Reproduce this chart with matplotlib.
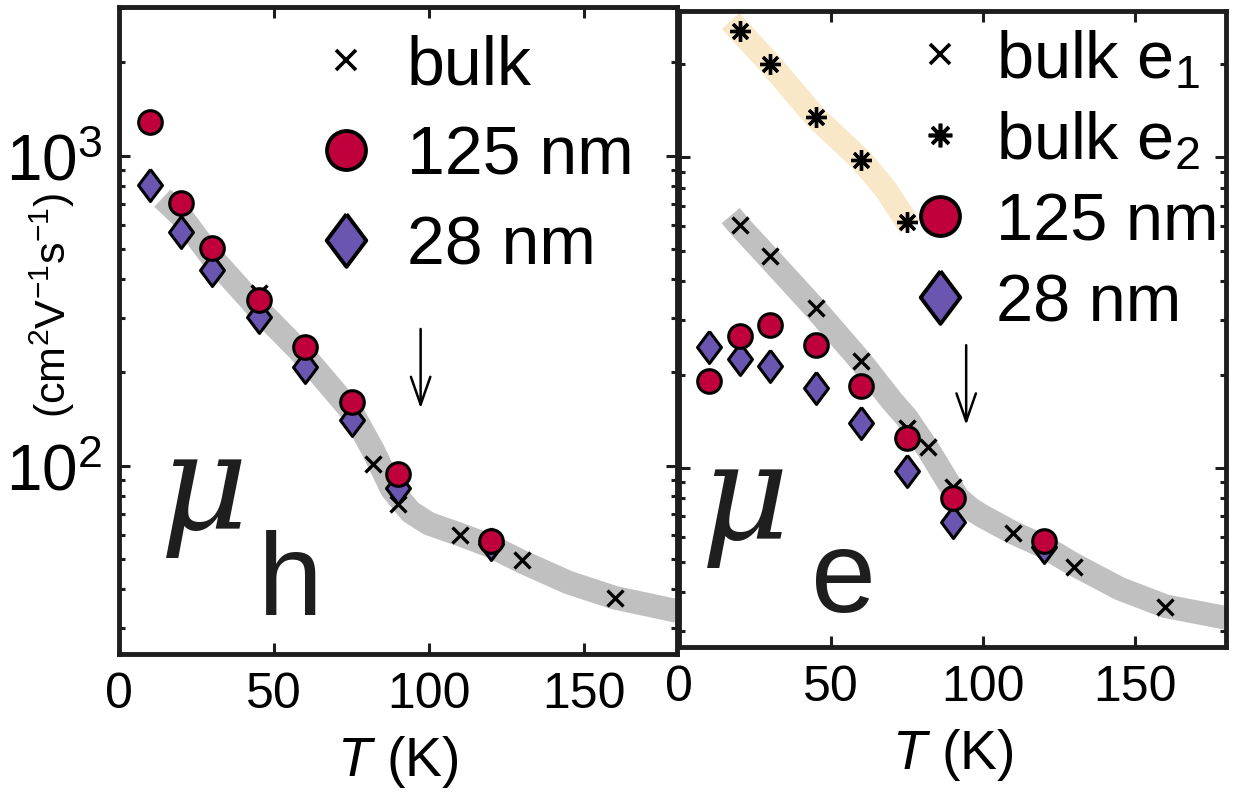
import numpy as np
import matplotlib
matplotlib.use("Agg")
import matplotlib.pyplot as plt
from matplotlib.lines import Line2D

plt.rcParams['font.family'] = 'Liberation Sans'
plt.rcParams['mathtext.fontset'] = 'custom'
plt.rcParams['mathtext.rm'] = 'Liberation Sans'
plt.rcParams['mathtext.it'] = 'Liberation Sans:italic'

# ---- data: hole mobility (left panel)
T_h_bulk = [45, 82, 90, 110, 130, 160]
mu_h_bulk = [360, 101, 75, 60, 49.5, 37.4]
T_h_125 = [10, 20, 30, 45, 60, 75, 90, 120]
mu_h_125 = [1285, 704, 503, 343, 242, 161, 94, 57]
T_h_28 = [10, 20, 30, 45, 60, 75, 90, 120]
mu_h_28 = [806, 566, 429, 303, 209, 141, 85, 56]
band_h_T = [14, 20, 30, 45, 60, 75, 82, 88, 94, 100, 110, 120, 130, 145, 160, 180]
band_h_mu = [730, 640, 470, 320, 225, 150, 112, 84, 71, 65, 60, 55, 49, 42, 37.5, 34]

# ---- data: electron mobility (right panel)
T_e1_bulk = [20, 30, 45, 60, 75, 82, 90, 110, 130, 160]
mu_e1_bulk = [605, 483, 327, 222, 135, 117, 87, 62, 48, 35.7]
T_e2_bulk = [20, 30, 45, 60, 75]
mu_e2_bulk = [2550, 2000, 1345, 982, 618]
T_e_125 = [10, 20, 30, 45, 60, 75, 90, 120]
mu_e_125 = [191, 266, 288, 249, 184, 125, 80, 58.5]
T_e_28 = [10, 20, 30, 45, 60, 75, 90, 120]
mu_e_28 = [245, 224, 213, 181, 140, 98, 67, 56]
band_e_T = [17, 20, 30, 45, 60, 70, 75, 82, 88, 92, 96, 100, 110, 120, 130, 145, 160, 180]
band_e_mu = [650, 600, 470, 325, 220, 165, 145, 115, 92, 80, 74, 70, 62, 56, 49, 41, 36, 33]
band_e2_T = [17, 20, 30, 45, 60, 68, 76]
band_e2_mu = [2750, 2550, 2000, 1345, 980, 790, 600]

red = '#c0003c'
purple = '#6a55b0'
dk = '#1e1e1e'
diamond = [(0, 1), (0.75, 0), (0, -1), (-0.75, 0), (0, 1)]
aster = (8, 2, 0)
arrow_style = '->,head_length=2.0,head_width=0.7'

fig = plt.figure(figsize=(12.4, 8.04), dpi=100)
axL = fig.add_axes([119/1240, 1-655/804, 558/1240, 647/804])
axR = fig.add_axes([679/1240, 1-648/804, 547/1240, 636/804])


def style(ax, ylim):
    ax.set_yscale('log')
    ax.set_xlim(0, 180)
    ax.set_ylim(*ylim)
    ax.set_xticks([0, 50, 100, 150])
    for s in ax.spines.values():
        s.set_linewidth(3.5)
        s.set_color(dk)
    ax.tick_params(which='both', direction='in', top=True, right=True,
                   width=2.2, color=dk)
    ax.tick_params(which='major', length=8, pad=12)
    ax.tick_params(which='minor', length=4)
    ax.tick_params(axis='x', labelsize=36)
    ax.tick_params(axis='y', labelsize=46)
    ax.set_xlabel('$T$ (K)', fontsize=40, labelpad=12)


style(axL, (24.7, 3020))
style(axR, (26.6, 2960))
axR.tick_params(axis='y', labelleft=False)

# left panel
axL.plot(band_h_T, band_h_mu, color='#c0c0c0', lw=17, solid_capstyle='butt', zorder=1)
axL.plot(T_h_bulk, mu_h_bulk, 'x', color='k', ms=12, mew=2.4, zorder=2)
axL.plot(T_h_28, mu_h_28, ls='none', marker=diamond, ms=23, mfc=purple, mec='k', mew=2.2, zorder=3)
axL.plot(T_h_125, mu_h_125, 'o', ms=17, mfc=red, mec='k', mew=2.2, zorder=4)
axL.annotate('', xy=(97.3, 150), xytext=(97.3, 282),
             arrowprops=dict(arrowstyle=arrow_style, lw=1.8, color='k'))
axL.text(0.073, 0.193, 'μ', transform=axL.transAxes, fontsize=98, family='DejaVu Serif',
         style='italic', color=dk)
axL.text(0.249, 0.062, 'h', transform=axL.transAxes, fontsize=84, color=dk)
axL.set_ylabel('(cm$^{2}$V$^{-1}$s$^{-1}$)', fontsize=31)
axL.yaxis.set_label_coords(-0.075, 0.541)

hL = [Line2D([], [], ls='none', marker='x', color='k', ms=14, mew=2.6),
      Line2D([], [], ls='none', marker='o', ms=28, mfc=red, mec='k', mew=2.8),
      Line2D([], [], ls='none', marker=diamond, ms=38, mfc=purple, mec='k', mew=2.8)]
axL.legend(hL, ['bulk', '125 nm', '28 nm'], loc='upper left', bbox_to_anchor=(0.26, 1.032),
           frameon=False, fontsize=49, handlelength=1.0, handletextpad=0.4, labelspacing=0.38,
           borderpad=0.2)

# right panel
axR.plot(band_e_T, band_e_mu, color='#c0c0c0', lw=17, solid_capstyle='butt', zorder=1)
axR.plot(band_e2_T, band_e2_mu, color='#f8e8c8', lw=17, solid_capstyle='butt', zorder=1)
axR.plot(T_e1_bulk, mu_e1_bulk, 'x', color='k', ms=12, mew=2.4, zorder=2)
axR.plot(T_e2_bulk, mu_e2_bulk, ls='none', marker=aster, color='k', ms=15, mew=2.4, zorder=2)
axR.plot(T_e_28, mu_e_28, ls='none', marker=diamond, ms=23, mfc=purple, mec='k', mew=2.2, zorder=3)
axR.plot(T_e_125, mu_e_125, 'o', ms=17, mfc=red, mec='k', mew=2.2, zorder=4)
axR.annotate('', xy=(94.5, 135), xytext=(94.5, 254),
             arrowprops=dict(arrowstyle=arrow_style, lw=1.8, color='k'))
axR.text(0.04, 0.17, 'μ', transform=axR.transAxes, fontsize=98, family='DejaVu Serif',
         style='italic', color=dk)
axR.text(0.241, 0.057, 'e', transform=axR.transAxes, fontsize=84, color=dk)

hR = [Line2D([], [], ls='none', marker='x', color='k', ms=14, mew=2.6),
      Line2D([], [], ls='none', marker=aster, color='k', ms=17, mew=2.6),
      Line2D([], [], ls='none', marker='o', ms=28, mfc=red, mec='k', mew=2.8),
      Line2D([], [], ls='none', marker=diamond, ms=38, mfc=purple, mec='k', mew=2.8)]
axR.legend(hR, ['bulk e$_1$', 'bulk e$_2$', '125 nm', '28 nm'], loc='upper left',
           bbox_to_anchor=(0.33, 1.045), frameon=False, fontsize=48, handlelength=1.0,
           handletextpad=0.35, labelspacing=0.28, borderpad=0.2)

fig.savefig('out.png', dpi=100)
